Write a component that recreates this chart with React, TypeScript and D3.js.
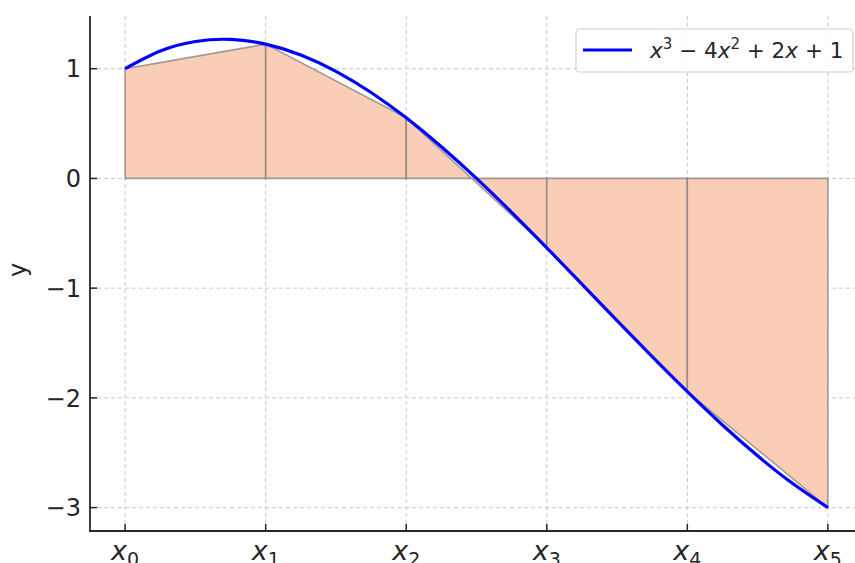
import React from "react";
import * as d3 from "d3";

const nodeIndex = ["0", "1", "2", "3", "4", "5"];
const nodeX = [0, 0.4, 0.8, 1.2, 1.6, 2.0];
const nodeY = [1, 1.224, 0.552, -0.632, -1.944, -3];

const curveX = [0, 0.1, 0.2, 0.3, 0.4, 0.5, 0.6, 0.7, 0.8, 0.9, 1.0, 1.1, 1.2, 1.3, 1.4, 1.5, 1.6, 1.7, 1.8, 1.9, 2.0];
const curveY = [1, 1.161, 1.248, 1.267, 1.224, 1.125, 0.976, 0.783, 0.552, 0.289, 0, -0.309, -0.632, -0.963, -1.296, -1.625, -1.944, -2.247, -2.528, -2.781, -3];

const yTicks = [-3, -2, -1, 0, 1];
const yTickLabels = ["\u22123", "\u22122", "\u22121", "0", "1"];

const W = 855;
const H = 563;
const FONT = "DejaVu Sans, sans-serif";

export default function App() {
  const x = d3.scaleLinear().domain([-0.1, 2.1]).range([90, 863]);
  const y = d3.scaleLinear().domain([-3.2133, 1.4803]).range([531, 16]);
  const left = 90;
  const bottom = 531;
  const top = 16;
  const right = 863;

  const line = d3
    .line<number>()
    .x((_, i) => x(curveX[i]))
    .y((d) => y(d))
    .curve(d3.curveNatural);

  const traps = nodeX.slice(0, -1).map((x0, i) => {
    const x1 = nodeX[i + 1];
    return [
      [x(x0), y(0)],
      [x(x0), y(nodeY[i])],
      [x(x1), y(nodeY[i + 1])],
      [x(x1), y(0)],
    ];
  });

  return (
    <svg
      width={W}
      height={H}
      style={{ position: "absolute", left: 0, top: 0, background: "#fff" }}
      fontFamily={FONT}
    >
      {/* grid */}
      {nodeX.map((v, i) => (
        <line key={"gx" + i} x1={x(v)} x2={x(v)} y1={top} y2={bottom} stroke="#c8c8c8" strokeWidth={1} strokeDasharray="4,3" />
      ))}
      {yTicks.map((v, i) => (
        <line key={"gy" + i} x1={left} x2={right} y1={y(v)} y2={y(v)} stroke="#c8c8c8" strokeWidth={1} strokeDasharray="4,3" />
      ))}

      {/* trapezoids */}
      {traps.map((pts, i) => (
        <polygon
          key={"t" + i}
          points={pts.map((p) => p.join(",")).join(" ")}
          fill="#f9cdb6"
          stroke="#7a7a7a"
          strokeOpacity={0.7}
          strokeWidth={1.6}
        />
      ))}

      {/* curve */}
      <path d={line(curveY) || ""} fill="none" stroke="#0000ff" strokeWidth={3.2} />

      {/* spines */}
      <line x1={left} x2={left} y1={top} y2={bottom + 0.9} stroke="#262626" strokeWidth={1.8} />
      <line x1={left - 0.9} x2={right} y1={bottom} y2={bottom} stroke="#262626" strokeWidth={1.8} />

      {/* y ticks */}
      {yTicks.map((v, i) => (
        <g key={"yt" + i}>
          <line x1={left} x2={left + 7} y1={y(v)} y2={y(v)} stroke="#262626" strokeWidth={1.5} />
          <text x={81} y={y(v)} dy="0.36em" textAnchor="end" fontSize={24} fill="#262626">
            {yTickLabels[i]}
          </text>
        </g>
      ))}

      {/* x ticks */}
      {nodeX.map((v, i) => (
        <g key={"xt" + i}>
          <line x1={x(v)} x2={x(v)} y1={bottom} y2={bottom - 7} stroke="#262626" strokeWidth={1.5} />
          <text x={x(v)} y={560} textAnchor="middle" fontSize={27} fill="#262626">
            <tspan fontStyle="italic">x</tspan>
            <tspan fontSize={19} dy={6}>{nodeIndex[i]}</tspan>
          </text>
        </g>
      ))}

      {/* y label */}
      <text transform="translate(26,270) rotate(-90)" textAnchor="middle" fontSize={24} fill="#262626">
        y
      </text>

      {/* legend */}
      <rect x={576} y={29} width={277} height={43} rx={4} fill="#fff" fillOpacity={0.85} stroke="#d0d0d0" strokeWidth={1.2} />
      <line x1={583} x2={632} y1={50} y2={50} stroke="#0000ff" strokeWidth={3} />
      <text x={650} y={58} fontSize={21.5} fill="#262626">
        <tspan fontStyle="italic">x</tspan>
        <tspan fontSize={15} dy={-9}>3</tspan>
        <tspan dy={9}>{" \u2212 4"}</tspan>
        <tspan fontStyle="italic">x</tspan>
        <tspan fontSize={15} dy={-9}>2</tspan>
        <tspan dy={9}>{" + 2"}</tspan>
        <tspan fontStyle="italic">x</tspan>
        <tspan>{" + 1"}</tspan>
      </text>
    </svg>
  );
}
